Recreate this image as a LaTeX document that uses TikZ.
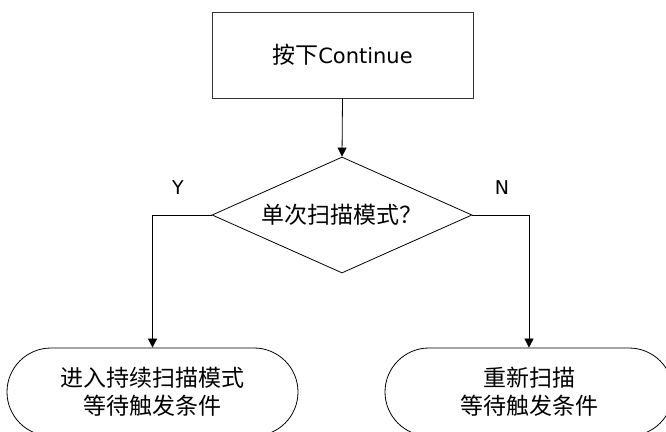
\documentclass[tikz,border=0pt]{standalone}
\usepackage{fontspec}
\setmainfont{DejaVu Sans}
\newfontfamily\cjk{Noto Sans CJK SC}
\usetikzlibrary{shapes.geometric,shapes.misc,arrows.meta}
\begin{document}
\begin{tikzpicture}[x=1pt,y=1pt,
    line width=0.8pt,
    flowarrow/.style={-{Triangle[length=9pt,width=9pt]}},
    startbox/.style={draw=black!80,rectangle,minimum width=261pt,minimum height=86pt,inner sep=0pt,font=\fontsize{21}{25}\selectfont},
    choicebox/.style={draw,diamond,shape aspect=2.24,minimum width=260pt,minimum height=116pt,inner sep=0pt,font=\fontsize{23}{27}\selectfont},
    endbox/.style={draw,rounded rectangle,minimum height=88pt,inner sep=0pt,align=center,font=\fontsize{23}{28}\selectfont\cjk},
    yesno/.style={font=\fontsize{19}{22}\selectfont}]
    \useasboundingbox (0,0) rectangle (666,431);
    \clip (0,0) rectangle (666,431);

    % Start and decision
    \node[startbox] (press) at (342.5,376) {{\cjk\fontsize{23}{25}\selectfont 按下}Continue};
    \node[choicebox] (single) at (342,216) {\cjk 单次扫描模式？};

    % Terminals
    \node[endbox,minimum width=291pt] (contscan) at (152.5,39) {进入持续扫描模式\\等待触发条件};
    \node[endbox,minimum width=288pt] (rescan) at (529,39) {重新扫描\\等待触发条件};

    % Arrows
    \draw[flowarrow] (press.south) -- (single.north);
    \draw[flowarrow] (single.west) -| (contscan.north);
    \draw[flowarrow] (single.east) -| (rescan.north);
    \node[yesno] (yes) at (178,243) {Y};
    \node[yesno] (no) at (502,243) {N};
\end{tikzpicture}
\end{document}
